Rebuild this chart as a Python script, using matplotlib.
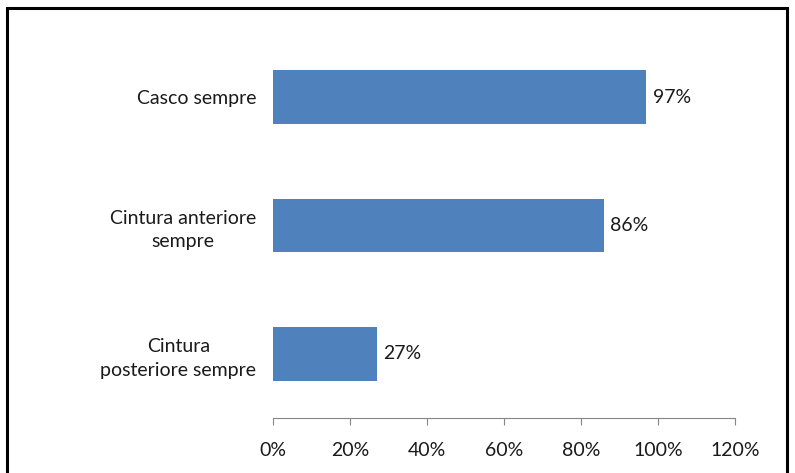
import matplotlib.pyplot as plt
from matplotlib.patches import Rectangle
from matplotlib.ticker import FuncFormatter

categories = ["Cintura\nposteriore sempre", "Cintura anteriore\nsempre", "Casco sempre"]
values = [0.27, 0.86, 0.97]
value_labels = ["27%", "86%", "97%"]
xticks = [0, 0.2, 0.4, 0.6, 0.8, 1.0, 1.2]

plt.rcParams['font.family'] = ['Lato', 'DejaVu Sans']

fig = plt.figure(figsize=(7.95, 4.73), dpi=100)
ax = fig.add_axes([0.3434, 0.1163, 0.5811, 0.8139])

ypos = range(len(categories))
ax.barh(ypos, values, height=0.42, color='#4F81BD')
for y, v, lab in zip(ypos, values, value_labels):
    ax.annotate(lab, (v, y), xytext=(4.5, 0), textcoords='offset points',
                va='center', ha='left', fontsize=14, color='#1a1a1a')

ax.set_xlim(0, 1.2)
ax.set_ylim(-0.5, 2.5)
ax.set_xticks(xticks)
ax.xaxis.set_major_formatter(FuncFormatter(lambda x, p: f"{x*100:.0f}%"))
ax.set_yticks(list(ypos))
ax.set_yticklabels(categories, multialignment='center', linespacing=1.45)

for s in ['top', 'right', 'left']:
    ax.spines[s].set_visible(False)
ax.spines['bottom'].set_color('#868686')
ax.tick_params(axis='x', length=5, color='#868686', labelsize=14, pad=12, labelcolor='#1a1a1a')
ax.tick_params(axis='y', length=0, labelsize=14, pad=12, labelcolor='#1a1a1a')

# outer frame
fig.patches.append(Rectangle((7/795, -0.05), 780/795, 1 - 8/473 + 0.05,
                             transform=fig.transFigure, fill=False,
                             edgecolor='black', linewidth=2.2, clip_on=False))

fig.savefig('out.png', dpi=100)
